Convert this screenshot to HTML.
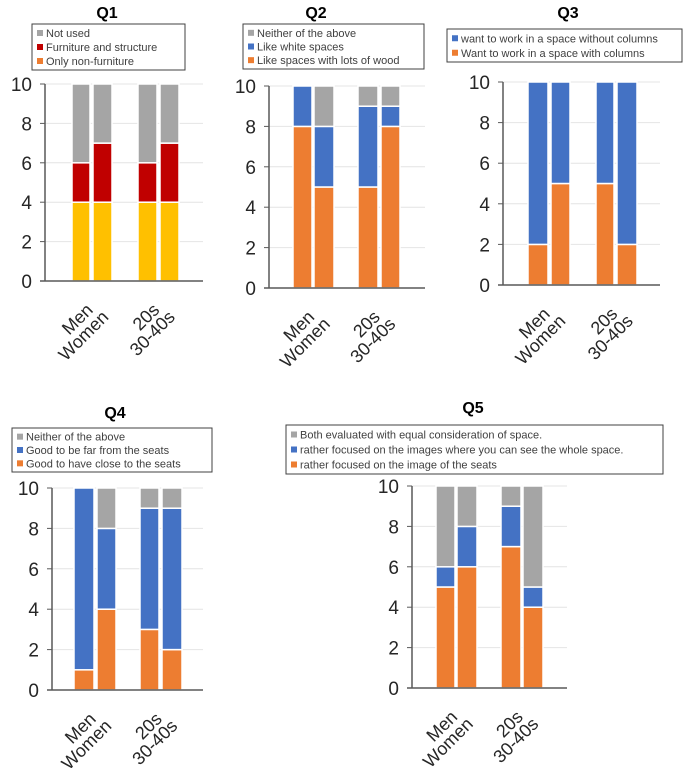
<!DOCTYPE html>
<html><head><meta charset="utf-8"><style>
body{margin:0;background:#fff;width:685px;height:768px;overflow:hidden}
svg{display:block;font-family:"Liberation Sans",sans-serif}
</style></head><body>
<svg id="chart" width="685" height="768"></svg>
<script>
const categories = ["Men","Women","20s","30-40s"];
const q1Titles = ["Not used","Furniture and structure","Only non-furniture"];
const q1Base = [4,4,4,4];
const q1Mid = [2,3,2,3];
const q1Top = [4,3,4,3];
const q2Titles = ["Neither of the above","Like white spaces","Like spaces with lots of wood"];
const q2Base = [8,5,5,8];
const q2Mid = [2,3,4,1];
const q2Top = [0,2,1,1];
const q3Titles = ["want to work in a space without columns","Want to work in a space with columns"];
const q3Base = [2,5,5,2];
const q3Top = [8,5,5,8];
const q4Titles = ["Neither of the above","Good to be far from the seats","Good to have close to the seats"];
const q4Base = [1,4,3,2];
const q4Mid = [9,4,6,7];
const q4Top = [0,2,1,1];
const q5Titles = ["Both evaluated with equal consideration of space.","rather focused on the images where you can see the whole space.","rather focused on the image of the seats"];
const q5Base = [5,6,7,4];
const q5Mid = [1,2,2,1];
const q5Top = [4,2,1,5];
const yTicks = [0,2,4,6,8,10];

const NS="http://www.w3.org/2000/svg";
const svg=document.getElementById('chart');
function mk(tag,attrs,parent){const e=document.createElementNS(NS,tag);for(const k in attrs)e.setAttribute(k,attrs[k]);(parent||svg).appendChild(e);return e;}

const panels=[
 {name:'q1',title:'Q1',tx:107,ty:18,lg:[32,24,153,46],ax:45,rx:203,y10:84,y0:281,bars:[[72,90],[93,112],[138,157],[160,179]],
  series:[q1Base,q1Mid,q1Top],colors:['#FFC000','#C00000','#A5A5A5'],leg:q1Titles,legColors:['#A5A5A5','#C00000','#ED7D31']},
 {name:'q2',title:'Q2',tx:316,ty:18,lg:[243,24,181,45],ax:269,rx:425,y10:86,y0:288,bars:[[293,312],[314,334],[358,378],[381,400]],
  series:[q2Base,q2Mid,q2Top],colors:['#ED7D31','#4472C4','#A5A5A5'],leg:q2Titles,legColors:['#A5A5A5','#4472C4','#ED7D31']},
 {name:'q3',title:'Q3',tx:568,ty:18,lg:[447,29,235,33],ax:503,rx:660,y10:82,y0:285,bars:[[528,548],[551,570],[596,614],[617,637]],
  series:[q3Base,q3Top],colors:['#ED7D31','#4472C4'],leg:q3Titles,legColors:['#4472C4','#ED7D31']},
 {name:'q4',title:'Q4',tx:115,ty:418,lg:[12,428,200,44],ax:52,rx:203,y10:488,y0:690,bars:[[74,94],[97,116],[140,159],[162,182]],
  series:[q4Base,q4Mid,q4Top],colors:['#ED7D31','#4472C4','#A5A5A5'],leg:q4Titles,legColors:['#A5A5A5','#4472C4','#ED7D31']},
 {name:'q5',title:'Q5',tx:473,ty:413,lg:[286,425,377,49],ax:412,rx:567,y10:486,y0:688,bars:[[436,455],[457,477],[501,521],[523,543]],
  series:[q5Base,q5Mid,q5Top],colors:['#ED7D31','#4472C4','#A5A5A5'],leg:q5Titles,legColors:['#A5A5A5','#4472C4','#ED7D31']}
];

panels.forEach(p=>{
  const g=mk('g',{});
  
  
  const y=v=>p.y0-(p.y0-p.y10)*v/10;
  const t=mk('text',{x:p.tx,y:p.ty,'text-anchor':'middle','font-size':16,'font-weight':'bold',fill:'#000'},g);
  t.textContent=p.title;
  
  
  // legend
  const lg=mk('g',{},g);
  
  
  mk('rect',{x:p.lg[0],y:p.lg[1],width:p.lg[2],height:p.lg[3],fill:'#fff',stroke:'#404040','stroke-width':1},lg);
  const n=p.leg.length, step=(p.lg[3]-4)/n;
  p.leg.forEach((lab,i)=>{
    const cy=p.lg[1]+2+step*(i+0.5);
    const e=mk('g',{},lg);
    
    
    mk('rect',{x:p.lg[0]+5,y:cy-3,width:6,height:6,fill:p.legColors[i]},e);
    const tt=mk('text',{x:p.lg[0]+14,y:cy+4,'font-size':11,fill:'#404040'},e);
    tt.textContent=lab;
  });
  // grid & ticks
  yTicks.forEach(v=>{
    const gl=mk('line',{x1:p.ax,x2:p.rx,y1:y(v),y2:y(v),stroke:'#e4e4e4','stroke-width':1},g);
    
    
    mk('line',{x1:p.ax-5,x2:p.ax,y1:y(v),y2:y(v),stroke:'#595959'},g);
    const tl=mk('text',{x:p.ax-13,y:y(v)+7,'text-anchor':'end','font-size':19,fill:'#262626'},g);
    tl.textContent=v;
    
    
  });
  // bars
  categories.forEach((c,ci)=>{
    let acc=0;
    p.series.forEach((s,si)=>{
      const v=s[ci];
      if(v>0){
        const r=mk('rect',{x:p.bars[ci][0],y:y(acc+v),width:p.bars[ci][1]-p.bars[ci][0],height:y(acc)-y(acc+v),fill:p.colors[si],stroke:'#fff','stroke-width':1.5},g);
        
        
      }
      acc+=v;
    });
  });
  mk('line',{x1:p.ax,x2:p.ax,y1:p.y10,y2:p.y0,stroke:'#595959','stroke-width':1.5},g);
  mk('line',{x1:p.ax-5,x2:p.rx,y1:p.y0,y2:p.y0,stroke:'#595959','stroke-width':1.5},g);
  // category labels, rotated
  [[0,1],[2,3]].forEach(pair=>{
    const cx=(p.bars[pair[0]][0]+p.bars[pair[1]][1])/2;
    const lab=mk('g',{transform:`translate(${cx+2},${p.y0+30}) rotate(-45)`},g);
    
    
    pair.forEach((ci,k)=>{
      const tx=mk('text',{x:k*6,y:k*16,'text-anchor':'end','font-size':18,fill:'#262626'},lab);
      tx.textContent=categories[ci];
    });
  });
});
</script>
</body></html>
